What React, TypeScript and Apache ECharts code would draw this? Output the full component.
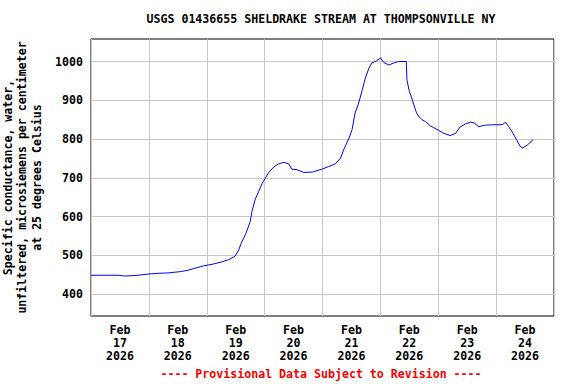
import React, { useEffect, useRef } from 'react';
import * as echarts from 'echarts';

const TITLE = 'USGS 01436655 SHELDRAKE STREAM AT THOMPSONVILLE NY';
const FOOTER = '---- Provisional Data Subject to Revision ----';
const Y_NAME = 'Specific conductance, water,\nunfiltered, microsiemens per centimeter\nat 25 degrees Celsius';

const X_START = '2026-02-17 00:00';
const X_END = '2026-02-25 00:00';
const X_MONTH = 'Feb';
const X_YEAR = '2026';
const X_DAYS = ['17', '18', '19', '20', '21', '22', '23', '24'];
const Y_TICKS = [400, 500, 600, 700, 800, 900, 1000];
const Y_MIN = 344;
const Y_MAX = 1058;

const TIMES = [
  '2026-02-17 00:00', '2026-02-17 11:15', '2026-02-17 14:00', '2026-02-17 18:45',
  '2026-02-18 00:30', '2026-02-18 03:45', '2026-02-18 08:00', '2026-02-18 13:30',
  '2026-02-18 16:15', '2026-02-18 18:30', '2026-02-18 22:30', '2026-02-19 02:45',
  '2026-02-19 06:00', '2026-02-19 09:00', '2026-02-19 11:45', '2026-02-19 13:15',
  '2026-02-19 14:15', '2026-02-19 16:15', '2026-02-19 18:00', '2026-02-19 18:45',
  '2026-02-19 20:00', '2026-02-19 21:30', '2026-02-19 23:00', '2026-02-20 00:15',
  '2026-02-20 01:30', '2026-02-20 03:45', '2026-02-20 05:45', '2026-02-20 08:00',
  '2026-02-20 10:00', '2026-02-20 11:15', '2026-02-20 13:30', '2026-02-20 16:15',
  '2026-02-20 19:45', '2026-02-20 23:45', '2026-02-21 02:30', '2026-02-21 05:15',
  '2026-02-21 07:30', '2026-02-21 08:45', '2026-02-21 11:00', '2026-02-21 12:15',
  '2026-02-21 13:30', '2026-02-21 15:00', '2026-02-21 16:30', '2026-02-21 17:45',
  '2026-02-21 19:15', '2026-02-21 20:30', '2026-02-21 22:30', '2026-02-22 00:00',
  '2026-02-22 01:30', '2026-02-22 03:30', '2026-02-22 05:30', '2026-02-22 07:30',
  '2026-02-22 10:45', '2026-02-22 11:00', '2026-02-22 12:00', '2026-02-22 13:15',
  '2026-02-22 15:00', '2026-02-22 16:00', '2026-02-22 17:15', '2026-02-22 18:45',
  '2026-02-22 20:45', '2026-02-22 22:00', '2026-02-23 00:15', '2026-02-23 02:15',
  '2026-02-23 05:00', '2026-02-23 07:15', '2026-02-23 09:00', '2026-02-23 11:15',
  '2026-02-23 13:30', '2026-02-23 15:00', '2026-02-23 16:45', '2026-02-23 19:30',
  '2026-02-23 23:00', '2026-02-24 02:30', '2026-02-24 04:00', '2026-02-24 05:15',
  '2026-02-24 07:00', '2026-02-24 08:30', '2026-02-24 10:00', '2026-02-24 11:00',
  '2026-02-24 13:00', '2026-02-24 15:15',
];

const VALUES = [
  449, 449, 447, 448.5,
  452.6, 454, 455, 458.7,
  462, 466, 473, 478,
  483, 489, 498, 514,
  531, 557, 587, 613,
  643, 665, 686, 699,
  712, 728, 736, 740,
  736, 722.5, 721, 714,
  715, 722.5, 729, 736,
  751, 772, 802.5, 824,
  867, 893, 927, 957,
  983, 996, 1002, 1009,
  997, 991, 996, 1000,
  1000, 953, 923, 901,
  867, 858, 850, 845,
  834, 830, 822, 815,
  809, 815, 831, 839,
  844, 841, 832, 836,
  837, 837, 843, 832,
  815, 798, 781, 777,
  785, 798,
];

function parseLocal(s: string): number {
  const [d, t] = s.split(' ');
  const [y, m, day] = d.split('-').map(Number);
  const [hh, mm] = (t || '00:00').split(':').map(Number);
  return new Date(y, m - 1, day, hh, mm).getTime();
}

const FONT = '"DejaVu Sans Mono", monospace';
const FS = 11.6;

export default function App() {
  const ref = useRef<HTMLDivElement>(null);
  useEffect(() => {
    if (!ref.current) return;
    const chart = echarts.init(ref.current, undefined, { renderer: 'svg' });
    const midnights = X_DAYS.map((d) => parseLocal(`${X_YEAR}-02-${d} 00:00`)).concat([parseLocal(X_END)]);
    const noons = X_DAYS.map((d) => parseLocal(`${X_YEAR}-02-${d} 12:00`));
    const data = TIMES.map((t, i) => [parseLocal(t), VALUES[i]]);
    chart.setOption({
      animation: false,
      backgroundColor: '#ffffff',
      title: [
        {
          text: TITLE,
          left: 321,
          top: 13,
          padding: 0,
          textAlign: 'center',
          textStyle: { fontFamily: FONT, fontWeight: 'bold', fontSize: FS, color: '#000' },
        },
        {
          text: FOOTER,
          left: 321,
          top: 368,
          padding: 0,
          textAlign: 'center',
          textStyle: { fontFamily: FONT, fontWeight: 'bold', fontSize: FS, color: '#ff0000' },
        },
      ],
      grid: {
        left: 91,
        top: 39,
        width: 463,
        height: 277,
        show: true,
        borderColor: '#000',
        borderWidth: 1,
        backgroundColor: '#fff',
        containLabel: false,
        outerBoundsMode: 'none',
      },
      xAxis: {
        type: 'value',
        min: parseLocal(X_START),
        max: parseLocal(X_END),
        axisLine: { show: false },
        axisTick: { show: false, customValues: midnights },
        splitLine: { show: true, lineStyle: { color: '#c8c8c8', width: 1 } },
        axisLabel: {
          customValues: noons,
          formatter: (v: number) => {
            const idx = noons.indexOf(v);
            const day = idx >= 0 ? X_DAYS[idx] : String(new Date(v).getDate());
            return `${X_MONTH}\n${day}\n${X_YEAR}`;
          },
          fontFamily: FONT,
          fontWeight: 'bold',
          fontSize: FS,
          lineHeight: 13,
          color: '#000',
          margin: 7,
        },
      },
      yAxis: {
        type: 'value',
        min: Y_MIN,
        max: Y_MAX,
        axisLine: { show: false },
        axisTick: { show: false, customValues: Y_TICKS },
        splitLine: { show: true, lineStyle: { color: '#c8c8c8', width: 1 } },
        axisLabel: {
          customValues: Y_TICKS,
          formatter: (v: number) => String(v),
          fontFamily: FONT,
          fontWeight: 'bold',
          fontSize: FS,
          color: '#000',
          margin: 8,
        },
        name: Y_NAME,
        nameLocation: 'middle',
        nameRotate: 90,
        nameGap: 64,
        nameTextStyle: {
          fontFamily: FONT,
          fontWeight: 'bold',
          fontSize: FS,
          lineHeight: 14.5,
          color: '#000',
          align: 'center',
          verticalAlign: 'middle',
        },
      },
      series: [
        {
          type: 'line',
          data,
          showSymbol: false,
          symbol: 'none',
          lineStyle: { color: '#0000ff', width: 1 },
          itemStyle: { color: '#0000ff' },
        },
      ],
    });
    return () => chart.dispose();
  }, []);
  return (
    <div
      ref={ref}
      style={{ position: 'fixed', left: 0, top: 0, width: 576, height: 384, background: '#fff' }}
    />
  );
}
